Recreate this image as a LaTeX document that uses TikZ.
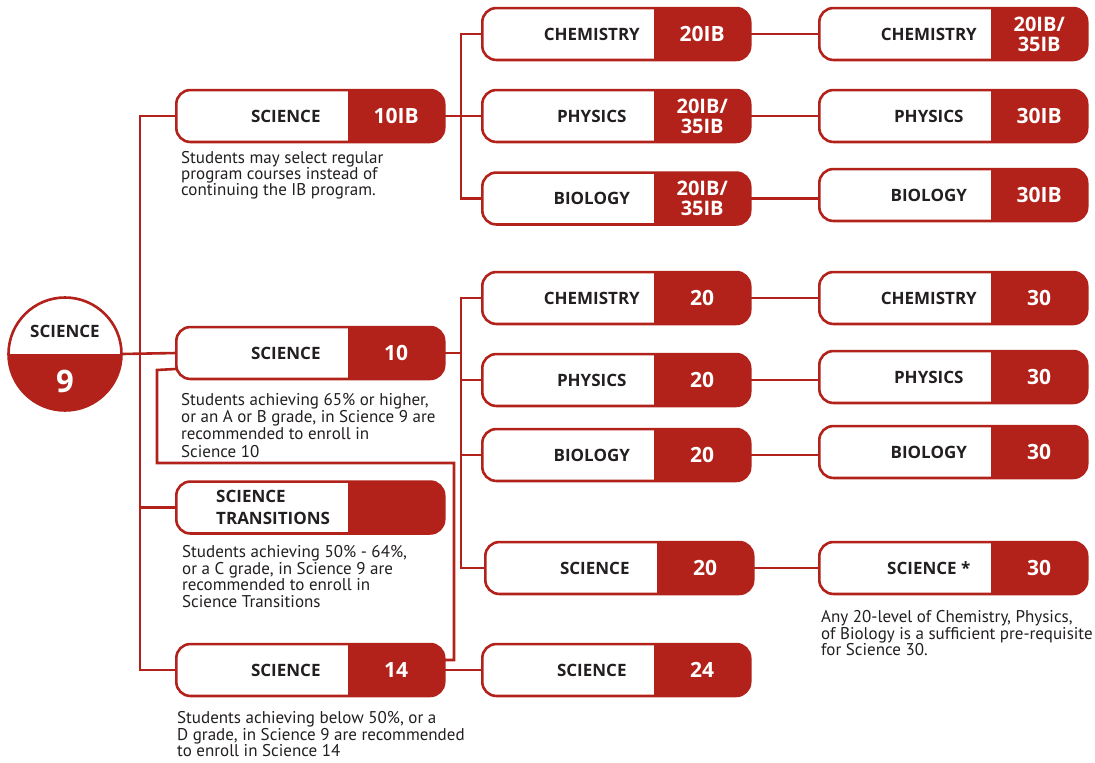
\documentclass[tikz,border=0pt]{standalone}
\usepackage{fontspec}
\setmainfont{PT Sans}
\newfontfamily\lblfont{Open Sans}
\usetikzlibrary{calc}
\definecolor{cred}{RGB}{178,34,26}
\definecolor{ctext}{RGB}{35,31,32}
\tikzset{
  boxshape/.style={minimum width=267.5pt, minimum height=51.5pt, inner sep=0pt, draw=none},
  outline/.style={draw=cred, line width=2.6pt, rounded corners=14pt},
  conn/.style={draw=cred, line width=2.6pt},
  lbl/.style={font=\lblfont\fontsize{17}{20}\selectfont\bfseries, text=ctext, inner sep=0pt},
  num/.style={font=\lblfont\fontsize{21}{19.5}\selectfont\bfseries, text=white, inner sep=0pt, align=center},
  numtwo/.style={font=\lblfont\fontsize{20}{20}\selectfont\bfseries, text=white, inner sep=0pt, align=center},
  note/.style={font=\fontsize{17}{16.8}\selectfont, text=ctext, inner sep=0pt, align=left, anchor=north west},
}
\newcommand\course[7]{% name, left x, center y, label, number, label offset, number style
  \node[boxshape,anchor=west] (#1) at (#2+1.3,#3) {};
  \begin{scope}
    \clip[rounded corners=14pt] (#1.north west) rectangle (#1.south east);
    \fill[cred] ($(#1.north east)+(-96.7,0)$) rectangle (#1.south east);
  \end{scope}
  \draw[outline] (#1.north west) rectangle (#1.south east);
  \node[lbl] at ($(#1.west)+(#6,0)$) {#4};
  \node[#7] at ($(#1.east)+(-48,0)$) {#5};
}
\begin{document}
\begin{tikzpicture}[x=1pt,y=-1pt]
\useasboundingbox[fill=white] (0,0) rectangle (1095,763);

% root circle
\node[circle, minimum size=113pt, inner sep=0pt] (circ) at (65,354) {};
\begin{scope}
  \clip (0,354) rectangle (130,420);
  \fill[cred] (circ.center) circle[radius=56.5];
\end{scope}
\draw[cred, line width=2.6pt] (circ.center) circle[radius=56.5];
\draw[cred, line width=1pt] (circ.west) -- (circ.east);
\node[lbl] (circlbl) at (65,331.5) {SCIENCE};
\node[font=\lblfont\fontsize{31}{31}\selectfont\bfseries, text=white, inner sep=0pt] (circnum) at (65,381.5) {9};

% level 1
\course{s10ib}{175}{116}{SCIENCE}{10IB}{109.5}{num}
\course{s10}{175}{353}{SCIENCE}{10}{109.5}{num}
\course{strans}{175}{507.5}{}{}{109.5}{num}
\node[font=\lblfont\fontsize{17}{21.5}\selectfont\bfseries, text=ctext, inner sep=0pt, align=left, anchor=west] (translbl) at (216,507.5) {SCIENCE\\TRANSITIONS};
\course{s14}{175}{670}{SCIENCE}{14}{109.5}{num}

% level 2
\course{c20ib}{481}{34}{CHEMISTRY}{20IB}{109.5}{num}
\course{p20ib}{481}{116}{PHYSICS}{20IB/\\35IB}{109.5}{numtwo}
\course{b20ib}{481}{198.5}{BIOLOGY}{20IB/\\35IB}{109.5}{numtwo}
\course{c20}{481}{298}{CHEMISTRY}{20}{109.5}{num}
\course{p20}{481}{380}{PHYSICS}{20}{109.5}{num}
\course{b20}{481}{455}{BIOLOGY}{20}{109.5}{num}
\course{sc20}{484}{568}{SCIENCE}{20}{109.5}{num}
\course{s24}{481}{670}{SCIENCE}{24}{109.5}{num}

% level 3
\course{c30ib}{818}{34}{CHEMISTRY}{20IB/\\35IB}{109.5}{numtwo}
\course{p30ib}{818}{116}{PHYSICS}{30IB}{109.5}{num}
\course{b30ib}{818}{195}{BIOLOGY}{30IB}{109.5}{num}
\course{c30}{818}{298}{CHEMISTRY}{30}{109.5}{num}
\course{p30}{818}{377}{PHYSICS}{30}{109.5}{num}
\course{b30}{818}{452}{BIOLOGY}{30}{109.5}{num}
\course{sc30}{818}{568}{SCIENCE *}{30}{109.5}{num}

% notes
\node[note, font=\fontsize{17}{16}\selectfont] (n1) at (181,151) {Students may select regular\\program courses instead of\\continuing the IB program.};
\node[note, font=\fontsize{17}{17.3}\selectfont] (n2) at (181,393) {Students achieving 65\% or higher,\\or an A or B grade, in Science 9 are\\recommended to enroll in\\Science 10};
\node[note] (n3) at (182,545) {Students achieving 50\% - 64\%,\\or a C grade, in Science 9 are\\recommended to enroll in\\Science Transitions};
\node[note] (n4) at (177,711) {Students achieving below 50\%, or a\\D grade, in Science 9 are recommended\\to enroll in Science 14};
\node[note] (n5) at (821,610) {Any 20-level of Chemistry, Physics,\\of Biology is a sufficient pre-requisite\\for Science 30.};

% connectors
\coordinate (j0) at (140,353);
\coordinate (j1) at (461,116);
\coordinate (j2) at (461,353);
\draw[conn] (circ.east) -- (s10.west);
\draw[conn] (s10ib.west) -| (j0) |- (s14.west);
\draw[conn] (strans.west) -- (strans.west -| j0);

\draw[conn] (s10ib.east) -- (p20ib.west);
\draw[conn] (c20ib.west) -| (j1) |- (b20ib.west);

\draw[conn] (s10.east) -- (j2);
\draw[conn] (c20.west) -| (j2) |- (sc20.west);
\draw[conn] (p20.west) -- (p20.west -| j2);
\draw[conn] (b20.west) -- (b20.west -| j2);

\coordinate (e1) at ($(s10.south west)+(0,-10)$);
\coordinate (e2) at (157,370);
\coordinate (e3) at (157,463);
\coordinate (e4) at (454,660);
\draw[conn] (e1) -- (e2) -- (e3) -| (e4) -- (e4 -| s14.east);
\draw[conn] (s14.east) -- (s24.west);

\draw[conn] (c20ib.east) -- (c30ib.west);
\draw[conn] (p20ib.east) -- (p30ib.west);
\draw[conn] (b20ib.east) -- (b20ib.east -| b30ib.west);
\draw[conn] (c20.east) -- (c30.west);
\draw[conn] (p20.east) -- (p20.east -| p30.west);
\draw[conn] (b20.east) -- (b20.east -| b30.west);
\draw[conn] (sc20.east) -- (sc30.west);
\end{tikzpicture}
\end{document}
